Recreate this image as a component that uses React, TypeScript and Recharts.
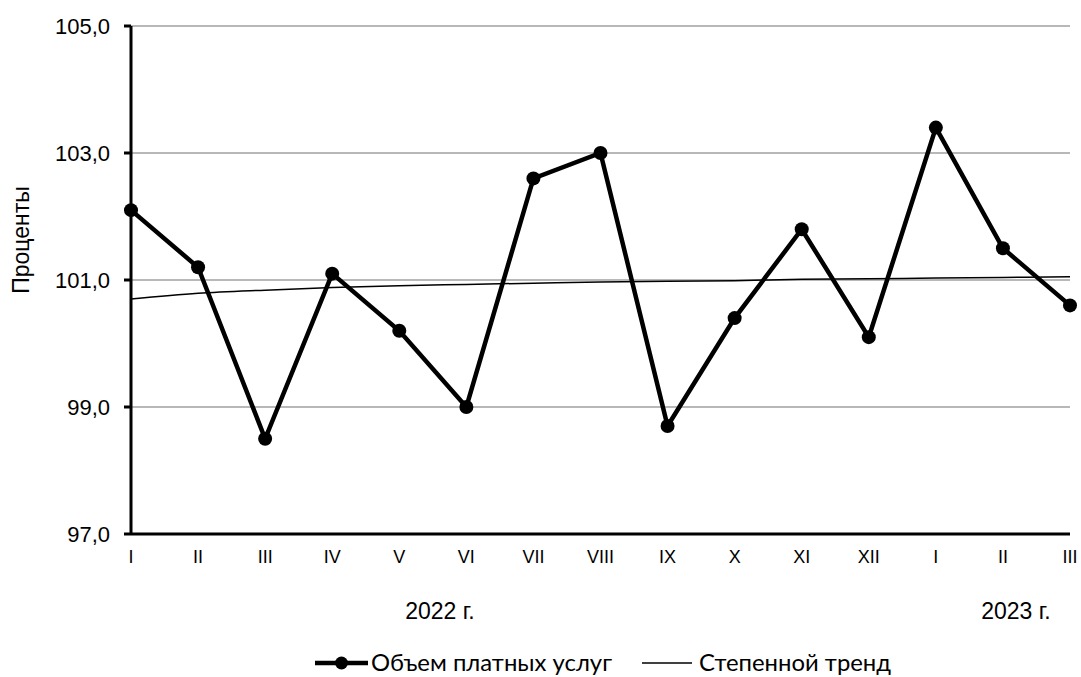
import React from 'react'
import { LineChart, Line, XAxis, YAxis, CartesianGrid } from 'recharts'

// месяцы: 2022 г. I–XII, 2023 г. I–III
const MONTHS = ['I', 'II', 'III', 'IV', 'V', 'VI', 'VII', 'VIII', 'IX', 'X', 'XI', 'XII', 'I', 'II', 'III']
const VOLUME = [102.1, 101.2, 98.5, 101.1, 100.2, 99.0, 102.6, 103.0, 98.7, 100.4, 101.8, 100.1, 103.4, 101.5, 100.6]
const TREND = [100.7, 100.79, 100.84, 100.88, 100.91, 100.93, 100.95, 100.97, 100.98, 100.99, 101.01, 101.02, 101.03, 101.04, 101.05]
const Y_TICKS = [97, 99, 101, 103, 105]
const X_TICKS = MONTHS.map((_, i) => i)
const YEARS = ['2022 г.', '2023 г.']
const SERIES_NAMES = ['Объем платных услуг', 'Степенной тренд']

const data = MONTHS.map((m, i) => ({ idx: i, month: m, volume: VOLUME[i], trend: TREND[i] }))

const W = 1081
const H = 677
const ARIAL = '"Liberation Sans", Arial, sans-serif'
const LEGEND_FONT = 'Lato, "Open Sans", sans-serif'

export default function App() {
  return (
    <div style={{ position: 'absolute', left: 0, top: 0, width: W, height: H, background: '#fff' }}>
      <LineChart width={W} height={H} data={data} margin={{ top: 26, right: 11, left: 0, bottom: 103 }}>
        <CartesianGrid vertical={false} stroke="#a0a0a0" strokeWidth={1.5} />
        <XAxis
          dataKey="idx"
          type="number"
          domain={[0, MONTHS.length - 1]}
          ticks={X_TICKS}
          tickFormatter={(i) => MONTHS[i]}
          height={40}
          axisLine={{ stroke: '#000', strokeWidth: 3 }}
          tickLine={false}
          tickSize={0}
          tickMargin={16}
          tick={{ fontSize: 18, fill: '#000', fontFamily: ARIAL }}
          interval={0}
        />
        <YAxis
          domain={[97, 105]}
          ticks={Y_TICKS}
          width={131}
          tickFormatter={(v) => Number(v).toFixed(1).replace('.', ',')}
          axisLine={{ stroke: '#000', strokeWidth: 3 }}
          tickLine={{ stroke: '#000', strokeWidth: 3 }}
          tickSize={7}
          tickMargin={14}
          tick={{ fontSize: 22, fill: '#000', fontFamily: ARIAL }}
        />
        <Line
          dataKey="trend"
          type="monotone"
          stroke="#000"
          strokeWidth={1.5}
          dot={false}
          activeDot={false}
          isAnimationActive={false}
        />
        <Line
          dataKey="volume"
          type="linear"
          stroke="#000"
          strokeWidth={4.5}
          dot={{ r: 7, fill: '#000', stroke: '#000', strokeWidth: 0 }}
          activeDot={false}
          isAnimationActive={false}
        />
      </LineChart>

      <svg width={W} height={H} style={{ position: 'absolute', left: 0, top: 0, pointerEvents: 'none' }}>
        <text
          transform="translate(29,240) rotate(-90)"
          textAnchor="middle"
          fontSize={23}
          fontFamily={ARIAL}
          fill="#000"
        >
          Проценты
        </text>

        <text x={440} y={619} textAnchor="middle" fontSize={23} fontFamily={ARIAL} fill="#000">
          {YEARS[0]}
        </text>
        <text x={1016} y={619} textAnchor="middle" fontSize={23} fontFamily={ARIAL} fill="#000">
          {YEARS[1]}
        </text>

        {/* легенда */}
        <line x1={315} x2={368} y1={663} y2={663} stroke="#000" strokeWidth={4.5} />
        <circle cx={341.5} cy={663} r={6.5} fill="#000" />
        <text x={371} y={671} fontSize={23} fontFamily={LEGEND_FONT} fill="#000" textLength={241} lengthAdjust="spacingAndGlyphs">
          {SERIES_NAMES[0]}
        </text>
        <line x1={642} x2={692} y1={663} y2={663} stroke="#000" strokeWidth={1.5} />
        <text x={699} y={671} fontSize={23} fontFamily={LEGEND_FONT} fill="#000" textLength={192} lengthAdjust="spacingAndGlyphs">
          {SERIES_NAMES[1]}
        </text>
      </svg>
    </div>
  )
}
